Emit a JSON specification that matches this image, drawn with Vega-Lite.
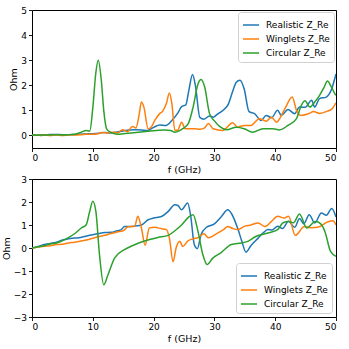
{
  "$schema": "https://vega.github.io/schema/vega-lite/v6.json",
  "padding": {"left": 0, "top": 5, "right": 5, "bottom": 0},
  "spacing": -1,
  "config": {
    "view": {"stroke": "black", "strokeWidth": 1},
    "font": "DejaVu Sans",
    "axis": {
      "domain": false, "grid": false, "tickColor": "black", "tickSize": 3.5, "tickWidth": 0.9,
      "labelColor": "black", "labelFontSize": 9, "labelPadding": 2, "labelFont": "DejaVu Sans",
      "titleColor": "black", "titleFontSize": 9.5, "titleFontWeight": "normal", "titleFont": "DejaVu Sans", "titlePadding": 2
    },
    "legend": {
      "symbolType": "stroke", "symbolSize": 260, "symbolStrokeWidth": 1.6, "rowPadding": -2.5,
      "labelFontSize": 9, "labelColor": "black", "labelFont": "DejaVu Sans", "labelOffset": 6,
      "strokeColor": "#d0d0d0", "fillColor": "rgba(255,255,255,0.85)", "cornerRadius": 3, "padding": 4, "title": null
    },
    "line": {"strokeWidth": 1.5, "interpolate": "monotone"}
  },
  "datasets": {
    "top": [
      {"s":"Realistic Z_Re","f":0,"v":0.02},{"s":"Realistic Z_Re","f":1,"v":0.02},{"s":"Realistic Z_Re","f":2,"v":0.02},{"s":"Realistic Z_Re","f":3,"v":0.04},{"s":"Realistic Z_Re","f":4,"v":0.04},{"s":"Realistic Z_Re","f":5,"v":0.03},{"s":"Realistic Z_Re","f":6,"v":0.03},{"s":"Realistic Z_Re","f":7,"v":0.04},{"s":"Realistic Z_Re","f":8,"v":0.05},{"s":"Realistic Z_Re","f":9,"v":0.06},{"s":"Realistic Z_Re","f":10,"v":0.07},{"s":"Realistic Z_Re","f":11,"v":0.09},{"s":"Realistic Z_Re","f":12,"v":0.12},{"s":"Realistic Z_Re","f":13,"v":0.1},{"s":"Realistic Z_Re","f":14,"v":0.14},{"s":"Realistic Z_Re","f":15,"v":0.18},{"s":"Realistic Z_Re","f":16,"v":0.22},{"s":"Realistic Z_Re","f":17,"v":0.23},{"s":"Realistic Z_Re","f":18,"v":0.22},{"s":"Realistic Z_Re","f":19,"v":0.2},{"s":"Realistic Z_Re","f":20,"v":0.32},{"s":"Realistic Z_Re","f":21,"v":0.42},{"s":"Realistic Z_Re","f":22,"v":0.4},{"s":"Realistic Z_Re","f":23,"v":0.6},{"s":"Realistic Z_Re","f":24,"v":0.9},{"s":"Realistic Z_Re","f":24.6,"v":1.15},{"s":"Realistic Z_Re","f":25.3,"v":1.22},{"s":"Realistic Z_Re","f":25.8,"v":1.8},{"s":"Realistic Z_Re","f":26.4,"v":2.43},{"s":"Realistic Z_Re","f":26.9,"v":1.95},{"s":"Realistic Z_Re","f":27.6,"v":0.72},{"s":"Realistic Z_Re","f":28.3,"v":0.65},{"s":"Realistic Z_Re","f":29.2,"v":0.78},{"s":"Realistic Z_Re","f":29.8,"v":0.73},{"s":"Realistic Z_Re","f":30.5,"v":0.85},{"s":"Realistic Z_Re","f":31.4,"v":1.0},{"s":"Realistic Z_Re","f":32.3,"v":1.25},{"s":"Realistic Z_Re","f":33,"v":1.75},{"s":"Realistic Z_Re","f":33.6,"v":2.12},{"s":"Realistic Z_Re","f":34.2,"v":2.2},{"s":"Realistic Z_Re","f":34.9,"v":1.85},{"s":"Realistic Z_Re","f":35.7,"v":0.95},{"s":"Realistic Z_Re","f":36.6,"v":0.87},{"s":"Realistic Z_Re","f":37.7,"v":0.6},{"s":"Realistic Z_Re","f":38.5,"v":0.8},{"s":"Realistic Z_Re","f":39.4,"v":0.71},{"s":"Realistic Z_Re","f":40.4,"v":1.0},{"s":"Realistic Z_Re","f":41,"v":0.8},{"s":"Realistic Z_Re","f":42.1,"v":1.03},{"s":"Realistic Z_Re","f":43.2,"v":0.87},{"s":"Realistic Z_Re","f":44,"v":1.13},{"s":"Realistic Z_Re","f":44.9,"v":1.12},{"s":"Realistic Z_Re","f":46,"v":1.4},{"s":"Realistic Z_Re","f":46.5,"v":1.13},{"s":"Realistic Z_Re","f":47.3,"v":1.47},{"s":"Realistic Z_Re","f":48.4,"v":1.53},{"s":"Realistic Z_Re","f":49.2,"v":1.8},{"s":"Realistic Z_Re","f":50,"v":2.45},

      {"s":"Winglets Z_Re","f":0,"v":0.0},{"s":"Winglets Z_Re","f":1,"v":0.02},{"s":"Winglets Z_Re","f":1.5,"v":-0.01},{"s":"Winglets Z_Re","f":2,"v":0.02},{"s":"Winglets Z_Re","f":3,"v":0.0},{"s":"Winglets Z_Re","f":4,"v":0.02},{"s":"Winglets Z_Re","f":5,"v":0.0},{"s":"Winglets Z_Re","f":6,"v":0.02},{"s":"Winglets Z_Re","f":7,"v":0.02},{"s":"Winglets Z_Re","f":8,"v":0.03},{"s":"Winglets Z_Re","f":9,"v":0.05},{"s":"Winglets Z_Re","f":10,"v":0.05},{"s":"Winglets Z_Re","f":10.9,"v":0.07},{"s":"Winglets Z_Re","f":11.5,"v":0.12},{"s":"Winglets Z_Re","f":12.5,"v":0.1},{"s":"Winglets Z_Re","f":13.3,"v":0.13},{"s":"Winglets Z_Re","f":14.1,"v":0.1},{"s":"Winglets Z_Re","f":14.9,"v":0.23},{"s":"Winglets Z_Re","f":15.7,"v":0.15},{"s":"Winglets Z_Re","f":16.5,"v":0.36},{"s":"Winglets Z_Re","f":17.1,"v":0.3},{"s":"Winglets Z_Re","f":17.6,"v":0.8},{"s":"Winglets Z_Re","f":18,"v":1.33},{"s":"Winglets Z_Re","f":18.4,"v":1.13},{"s":"Winglets Z_Re","f":19.1,"v":0.27},{"s":"Winglets Z_Re","f":19.6,"v":0.33},{"s":"Winglets Z_Re","f":20.2,"v":0.6},{"s":"Winglets Z_Re","f":21,"v":0.87},{"s":"Winglets Z_Re","f":21.5,"v":0.97},{"s":"Winglets Z_Re","f":22.1,"v":1.27},{"s":"Winglets Z_Re","f":22.6,"v":1.69},{"s":"Winglets Z_Re","f":23,"v":1.27},{"s":"Winglets Z_Re","f":23.5,"v":0.2},{"s":"Winglets Z_Re","f":24,"v":0.22},{"s":"Winglets Z_Re","f":24.6,"v":0.53},{"s":"Winglets Z_Re","f":25.2,"v":0.27},{"s":"Winglets Z_Re","f":26,"v":0.27},{"s":"Winglets Z_Re","f":26.8,"v":0.27},{"s":"Winglets Z_Re","f":27.6,"v":0.25},{"s":"Winglets Z_Re","f":28.4,"v":0.3},{"s":"Winglets Z_Re","f":29,"v":0.48},{"s":"Winglets Z_Re","f":29.8,"v":0.27},{"s":"Winglets Z_Re","f":31.4,"v":0.2},{"s":"Winglets Z_Re","f":33,"v":0.51},{"s":"Winglets Z_Re","f":33.8,"v":0.33},{"s":"Winglets Z_Re","f":34.9,"v":0.4},{"s":"Winglets Z_Re","f":36,"v":0.4},{"s":"Winglets Z_Re","f":37.4,"v":0.67},{"s":"Winglets Z_Re","f":38.5,"v":0.57},{"s":"Winglets Z_Re","f":39.4,"v":0.73},{"s":"Winglets Z_Re","f":40.2,"v":0.53},{"s":"Winglets Z_Re","f":41.6,"v":1.07},{"s":"Winglets Z_Re","f":42.8,"v":1.53},{"s":"Winglets Z_Re","f":43.5,"v":1.0},{"s":"Winglets Z_Re","f":44.2,"v":0.8},{"s":"Winglets Z_Re","f":45.7,"v":0.89},{"s":"Winglets Z_Re","f":46.3,"v":0.95},{"s":"Winglets Z_Re","f":47.3,"v":0.88},{"s":"Winglets Z_Re","f":48.6,"v":0.97},{"s":"Winglets Z_Re","f":49.3,"v":1.05},{"s":"Winglets Z_Re","f":50,"v":1.3},

      {"s":"Circular Z_Re","f":0,"v":0.02},{"s":"Circular Z_Re","f":1,"v":0.01},{"s":"Circular Z_Re","f":2,"v":0.02},{"s":"Circular Z_Re","f":3,"v":0.02},{"s":"Circular Z_Re","f":4,"v":0.03},{"s":"Circular Z_Re","f":5,"v":0.02},{"s":"Circular Z_Re","f":6,"v":0.03},{"s":"Circular Z_Re","f":7,"v":0.05},{"s":"Circular Z_Re","f":8.1,"v":0.13},{"s":"Circular Z_Re","f":8.9,"v":0.2},{"s":"Circular Z_Re","f":9.5,"v":0.17},{"s":"Circular Z_Re","f":10,"v":1.1},{"s":"Circular Z_Re","f":10.5,"v":2.5},{"s":"Circular Z_Re","f":10.9,"v":3.0},{"s":"Circular Z_Re","f":11.4,"v":2.2},{"s":"Circular Z_Re","f":11.8,"v":1.0},{"s":"Circular Z_Re","f":12.3,"v":0.25},{"s":"Circular Z_Re","f":13,"v":0.12},{"s":"Circular Z_Re","f":14.1,"v":0.05},{"s":"Circular Z_Re","f":15,"v":0.07},{"s":"Circular Z_Re","f":16.3,"v":0.1},{"s":"Circular Z_Re","f":17.5,"v":0.13},{"s":"Circular Z_Re","f":19.1,"v":0.17},{"s":"Circular Z_Re","f":20.5,"v":0.2},{"s":"Circular Z_Re","f":21.8,"v":0.22},{"s":"Circular Z_Re","f":22.8,"v":0.2},{"s":"Circular Z_Re","f":23.5,"v":0.13},{"s":"Circular Z_Re","f":24.2,"v":0.18},{"s":"Circular Z_Re","f":24.8,"v":0.27},{"s":"Circular Z_Re","f":25.7,"v":0.47},{"s":"Circular Z_Re","f":26.5,"v":1.13},{"s":"Circular Z_Re","f":27.3,"v":2.05},{"s":"Circular Z_Re","f":27.8,"v":2.23},{"s":"Circular Z_Re","f":28.4,"v":1.93},{"s":"Circular Z_Re","f":29.2,"v":0.87},{"s":"Circular Z_Re","f":30,"v":0.58},{"s":"Circular Z_Re","f":30.9,"v":0.35},{"s":"Circular Z_Re","f":32,"v":0.23},{"s":"Circular Z_Re","f":33.6,"v":0.33},{"s":"Circular Z_Re","f":34.9,"v":0.27},{"s":"Circular Z_Re","f":36.3,"v":0.13},{"s":"Circular Z_Re","f":38,"v":0.27},{"s":"Circular Z_Re","f":39.6,"v":0.27},{"s":"Circular Z_Re","f":40.7,"v":0.22},{"s":"Circular Z_Re","f":42.1,"v":0.4},{"s":"Circular Z_Re","f":43.5,"v":0.67},{"s":"Circular Z_Re","f":44.3,"v":1.2},{"s":"Circular Z_Re","f":44.9,"v":1.38},{"s":"Circular Z_Re","f":45.7,"v":1.13},{"s":"Circular Z_Re","f":46.5,"v":1.33},{"s":"Circular Z_Re","f":47.3,"v":1.6},{"s":"Circular Z_Re","f":48,"v":1.9},{"s":"Circular Z_Re","f":48.6,"v":2.17},{"s":"Circular Z_Re","f":49.2,"v":1.95},{"s":"Circular Z_Re","f":49.8,"v":1.67},{"s":"Circular Z_Re","f":50,"v":1.6}
    ],
    "bottom": [
      {"s":"Realistic Z_Re","f":0,"v":0},{"s":"Realistic Z_Re","f":1,"v":0.07},{"s":"Realistic Z_Re","f":2,"v":0.15},{"s":"Realistic Z_Re","f":3,"v":0.2},{"s":"Realistic Z_Re","f":4,"v":0.25},{"s":"Realistic Z_Re","f":5,"v":0.35},{"s":"Realistic Z_Re","f":6,"v":0.4},{"s":"Realistic Z_Re","f":7,"v":0.43},{"s":"Realistic Z_Re","f":8,"v":0.46},{"s":"Realistic Z_Re","f":9,"v":0.52},{"s":"Realistic Z_Re","f":10,"v":0.58},{"s":"Realistic Z_Re","f":11,"v":0.63},{"s":"Realistic Z_Re","f":12,"v":0.67},{"s":"Realistic Z_Re","f":13,"v":0.68},{"s":"Realistic Z_Re","f":14,"v":0.75},{"s":"Realistic Z_Re","f":14.7,"v":0.8},{"s":"Realistic Z_Re","f":15.2,"v":0.93},{"s":"Realistic Z_Re","f":16,"v":0.93},{"s":"Realistic Z_Re","f":17,"v":0.96},{"s":"Realistic Z_Re","f":18,"v":1.0},{"s":"Realistic Z_Re","f":19.1,"v":1.23},{"s":"Realistic Z_Re","f":20,"v":1.3},{"s":"Realistic Z_Re","f":21.3,"v":1.37},{"s":"Realistic Z_Re","f":22.4,"v":1.59},{"s":"Realistic Z_Re","f":23.5,"v":1.88},{"s":"Realistic Z_Re","f":24,"v":1.85},{"s":"Realistic Z_Re","f":24.6,"v":1.66},{"s":"Realistic Z_Re","f":25.6,"v":1.96},{"s":"Realistic Z_Re","f":26.1,"v":1.4},{"s":"Realistic Z_Re","f":26.7,"v":0.14},{"s":"Realistic Z_Re","f":27.2,"v":-0.03},{"s":"Realistic Z_Re","f":27.8,"v":0.58},{"s":"Realistic Z_Re","f":28.7,"v":0.9},{"s":"Realistic Z_Re","f":30,"v":1.05},{"s":"Realistic Z_Re","f":31.1,"v":1.35},{"s":"Realistic Z_Re","f":32.2,"v":1.66},{"s":"Realistic Z_Re","f":32.8,"v":1.5},{"s":"Realistic Z_Re","f":33.9,"v":0.8},{"s":"Realistic Z_Re","f":34.5,"v":0.3},{"s":"Realistic Z_Re","f":35.2,"v":-0.18},{"s":"Realistic Z_Re","f":36,"v":0.1},{"s":"Realistic Z_Re","f":37.2,"v":0.43},{"s":"Realistic Z_Re","f":38,"v":0.65},{"s":"Realistic Z_Re","f":38.8,"v":0.8},{"s":"Realistic Z_Re","f":39.5,"v":0.78},{"s":"Realistic Z_Re","f":40.4,"v":0.95},{"s":"Realistic Z_Re","f":41.2,"v":0.85},{"s":"Realistic Z_Re","f":42.2,"v":1.16},{"s":"Realistic Z_Re","f":43.2,"v":0.9},{"s":"Realistic Z_Re","f":44,"v":1.28},{"s":"Realistic Z_Re","f":44.7,"v":1.05},{"s":"Realistic Z_Re","f":45.6,"v":1.45},{"s":"Realistic Z_Re","f":46.5,"v":1.09},{"s":"Realistic Z_Re","f":47.6,"v":1.52},{"s":"Realistic Z_Re","f":48.4,"v":1.42},{"s":"Realistic Z_Re","f":49.3,"v":1.72},{"s":"Realistic Z_Re","f":50,"v":1.35},

      {"s":"Winglets Z_Re","f":0,"v":0},{"s":"Winglets Z_Re","f":1,"v":0.04},{"s":"Winglets Z_Re","f":2,"v":0.08},{"s":"Winglets Z_Re","f":3,"v":0.1},{"s":"Winglets Z_Re","f":4,"v":0.15},{"s":"Winglets Z_Re","f":5,"v":0.16},{"s":"Winglets Z_Re","f":6,"v":0.22},{"s":"Winglets Z_Re","f":7,"v":0.25},{"s":"Winglets Z_Re","f":8,"v":0.3},{"s":"Winglets Z_Re","f":9,"v":0.35},{"s":"Winglets Z_Re","f":10,"v":0.42},{"s":"Winglets Z_Re","f":11,"v":0.5},{"s":"Winglets Z_Re","f":12,"v":0.55},{"s":"Winglets Z_Re","f":13,"v":0.63},{"s":"Winglets Z_Re","f":14,"v":0.7},{"s":"Winglets Z_Re","f":15,"v":0.75},{"s":"Winglets Z_Re","f":15.8,"v":0.92},{"s":"Winglets Z_Re","f":16.9,"v":0.95},{"s":"Winglets Z_Re","f":17.4,"v":1.38},{"s":"Winglets Z_Re","f":18,"v":0.87},{"s":"Winglets Z_Re","f":18.6,"v":0.12},{"s":"Winglets Z_Re","f":19.3,"v":0.87},{"s":"Winglets Z_Re","f":20.2,"v":0.9},{"s":"Winglets Z_Re","f":21.3,"v":0.84},{"s":"Winglets Z_Re","f":22.1,"v":0.8},{"s":"Winglets Z_Re","f":22.6,"v":0.43},{"s":"Winglets Z_Re","f":23.2,"v":-0.6},{"s":"Winglets Z_Re","f":23.7,"v":0.0},{"s":"Winglets Z_Re","f":24.3,"v":0.29},{"s":"Winglets Z_Re","f":24.8,"v":0.07},{"s":"Winglets Z_Re","f":25.6,"v":0.3},{"s":"Winglets Z_Re","f":26.5,"v":0.4},{"s":"Winglets Z_Re","f":27.3,"v":0.45},{"s":"Winglets Z_Re","f":28.3,"v":0.62},{"s":"Winglets Z_Re","f":29,"v":0.45},{"s":"Winglets Z_Re","f":30.5,"v":0.65},{"s":"Winglets Z_Re","f":31.5,"v":0.8},{"s":"Winglets Z_Re","f":32.2,"v":0.94},{"s":"Winglets Z_Re","f":33,"v":0.85},{"s":"Winglets Z_Re","f":33.8,"v":0.8},{"s":"Winglets Z_Re","f":35,"v":0.95},{"s":"Winglets Z_Re","f":36,"v":1.0},{"s":"Winglets Z_Re","f":37.2,"v":1.09},{"s":"Winglets Z_Re","f":38.3,"v":0.93},{"s":"Winglets Z_Re","f":39.4,"v":1.16},{"s":"Winglets Z_Re","f":40.4,"v":1.38},{"s":"Winglets Z_Re","f":41.5,"v":1.3},{"s":"Winglets Z_Re","f":42.2,"v":1.38},{"s":"Winglets Z_Re","f":43.3,"v":0.55},{"s":"Winglets Z_Re","f":44.8,"v":0.93},{"s":"Winglets Z_Re","f":46,"v":0.88},{"s":"Winglets Z_Re","f":47,"v":0.9},{"s":"Winglets Z_Re","f":48.6,"v":1.13},{"s":"Winglets Z_Re","f":49.5,"v":1.18},{"s":"Winglets Z_Re","f":50,"v":1.0},

      {"s":"Circular Z_Re","f":0,"v":0},{"s":"Circular Z_Re","f":1,"v":0.05},{"s":"Circular Z_Re","f":2,"v":0.1},{"s":"Circular Z_Re","f":3,"v":0.17},{"s":"Circular Z_Re","f":4,"v":0.22},{"s":"Circular Z_Re","f":4.8,"v":0.29},{"s":"Circular Z_Re","f":6,"v":0.45},{"s":"Circular Z_Re","f":7,"v":0.62},{"s":"Circular Z_Re","f":8.1,"v":0.87},{"s":"Circular Z_Re","f":8.9,"v":1.0},{"s":"Circular Z_Re","f":9.5,"v":1.6},{"s":"Circular Z_Re","f":10,"v":2.03},{"s":"Circular Z_Re","f":10.5,"v":1.6},{"s":"Circular Z_Re","f":11.1,"v":-0.29},{"s":"Circular Z_Re","f":11.8,"v":-1.6},{"s":"Circular Z_Re","f":12.5,"v":-1.16},{"s":"Circular Z_Re","f":13.6,"v":-0.43},{"s":"Circular Z_Re","f":15.2,"v":-0.07},{"s":"Circular Z_Re","f":16.5,"v":0.1},{"s":"Circular Z_Re","f":18,"v":0.26},{"s":"Circular Z_Re","f":19.5,"v":0.38},{"s":"Circular Z_Re","f":20.7,"v":0.46},{"s":"Circular Z_Re","f":22.4,"v":0.55},{"s":"Circular Z_Re","f":23.5,"v":0.75},{"s":"Circular Z_Re","f":24.6,"v":1.0},{"s":"Circular Z_Re","f":25.9,"v":1.37},{"s":"Circular Z_Re","f":26.5,"v":1.45},{"s":"Circular Z_Re","f":27.3,"v":0.72},{"s":"Circular Z_Re","f":28.1,"v":-0.29},{"s":"Circular Z_Re","f":28.8,"v":-0.72},{"s":"Circular Z_Re","f":29.7,"v":-0.45},{"s":"Circular Z_Re","f":31,"v":-0.22},{"s":"Circular Z_Re","f":32.8,"v":0.15},{"s":"Circular Z_Re","f":34.5,"v":0.22},{"s":"Circular Z_Re","f":35.6,"v":0.3},{"s":"Circular Z_Re","f":36.8,"v":0.5},{"s":"Circular Z_Re","f":38.8,"v":0.65},{"s":"Circular Z_Re","f":40.4,"v":0.8},{"s":"Circular Z_Re","f":41.3,"v":1.1},{"s":"Circular Z_Re","f":42.2,"v":1.15},{"s":"Circular Z_Re","f":43,"v":1.1},{"s":"Circular Z_Re","f":44,"v":1.48},{"s":"Circular Z_Re","f":45.2,"v":0.87},{"s":"Circular Z_Re","f":46.6,"v":1.15},{"s":"Circular Z_Re","f":47.5,"v":1.05},{"s":"Circular Z_Re","f":48.2,"v":0.7},{"s":"Circular Z_Re","f":49.1,"v":-0.15},{"s":"Circular Z_Re","f":50,"v":-0.36}
    ]
  },
  "vconcat": [
    {
      "width": 304, "height": 138,
      "data": {"name": "top"},
      "mark": {"type": "line", "clip": true},
      "encoding": {
        "x": {"field": "f", "type": "quantitative", "title": "f (GHz)", "scale": {"domain": [0, 50], "nice": false, "zero": false}, "axis": {"values": [0,10,20,30,40,50]}},
        "y": {"field": "v", "type": "quantitative", "title": "Ohm", "scale": {"domain": [-0.5, 5], "nice": false, "zero": false}, "axis": {"values": [0,1,2,3,4,5]}},
        "color": {"field": "s", "type": "nominal", "scale": {"domain": ["Realistic Z_Re","Winglets Z_Re","Circular Z_Re"], "range": ["#1f77b4","#ff7f0e","#2ca02c"]}, "legend": {"orient": "top-right", "offset": 2}},
        "order": {"field": "f", "type": "quantitative"}
      }
    },
    {
      "width": 304, "height": 138,
      "data": {"name": "bottom"},
      "mark": {"type": "line", "clip": true},
      "encoding": {
        "x": {"field": "f", "type": "quantitative", "title": "f (GHz)", "scale": {"domain": [0, 50], "nice": false, "zero": false}, "axis": {"values": [0,10,20,30,40,50]}},
        "y": {"field": "v", "type": "quantitative", "title": "Ohm", "scale": {"domain": [-3, 3], "nice": false, "zero": false}, "axis": {"values": [-3,-2,-1,0,1,2,3]}},
        "color": {"field": "s", "type": "nominal", "scale": {"domain": ["Realistic Z_Re","Winglets Z_Re","Circular Z_Re"], "range": ["#1f77b4","#ff7f0e","#2ca02c"]}, "legend": {"orient": "bottom-right", "offset": 4}},
        "order": {"field": "f", "type": "quantitative"}
      }
    }
  ],
  "resolve": {"scale": {"color": "independent"}, "legend": {"color": "independent"}}
}
